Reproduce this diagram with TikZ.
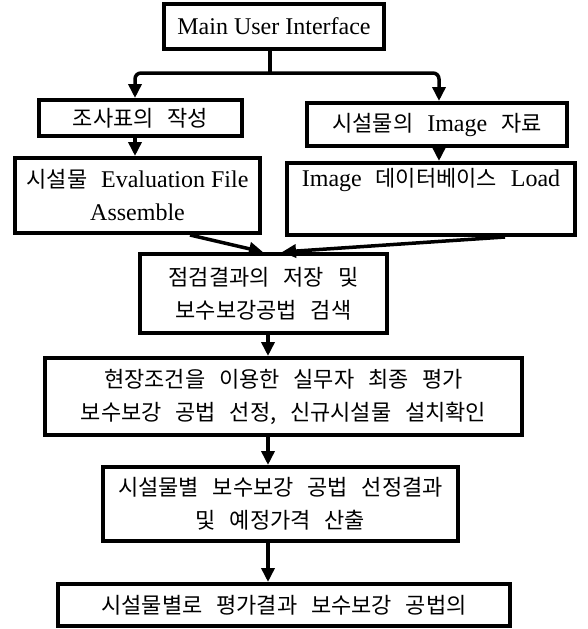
\documentclass[tikz,border=0pt]{standalone}
\usepackage{fontspec}
\setmainfont{Liberation Serif}
\newfontfamily\krfont{Noto Sans CJK KR}[WordSpace=2.8]
\newcommand{\ko}[1]{{\krfont\fontsize{22}{33}\selectfont #1}}
\usetikzlibrary{positioning,calc,arrows.meta}

\begin{document}
\begin{tikzpicture}[x=1pt, y=-1pt,
    box/.style={draw=black, line width=4pt, fill=white, align=center, inner sep=0pt,
                font=\fontsize{24}{33}\selectfont},
    conn/.style={line width=3.5pt},
    arr/.style={conn, -{Triangle[length=14pt,width=13pt]}}]
    \useasboundingbox (0,0) rectangle (587,629);

    % Columns the connectors run along
    \coordinate (spine) at (268,0);
    \coordinate (colL) at (135,0);
    \coordinate (colR) at (439,0);
    \coordinate (fork) at (270,73);
    \coordinate (mergeL) at (190,0);
    \coordinate (mergeR) at (505,0);
    \coordinate (tipL) at (263,0);
    \coordinate (tipR) at (282,0);

    % Boxes
    \node[box, minimum width=220pt, minimum height=45pt] (ui) at (274,26.5) {Main User Interface};
    \node[box, minimum width=203pt, minimum height=36pt] (survey) at (140.5,118) {\ko{조사표의 작성}};
    \node[box, minimum width=260pt, minimum height=43pt] (imgdata) at (437,124.5) {\ko{시설물의 }Image\ko{ 자료}};
    \node[box, minimum width=245pt, minimum height=75pt] (evalfile) at (137.5,195.5) {\ko{시설물 }Evaluation File\\Assemble};
    \node[box, minimum width=288pt, minimum height=72pt] (imgdb) at (431,199) {Image\ko{ 데이터베이스 }Load\\\strut};
    \node[box, minimum width=247pt, minimum height=79pt] (store) at (263.5,293.5) {\ko{점검결과의 저장 및}\\\ko{보수보강공법 검색}};
    \node[box, minimum width=477pt, minimum height=77pt] (field) at (283.5,396.5) {\ko{현장조건을 이용한 실무자 최종 평가}\\\ko{보수보강 공법 선정, 신규시설물 설치확인}};
    \node[box, minimum width=355pt, minimum height=74pt] (select) at (280.5,504) {\ko{시설물별 보수보강 공법 선정결과}\\\ko{및 예정가격 산출}};
    \node[box, minimum width=452pt, minimum height=42pt] (result) at (284,605) {\ko{시설물별로 평가결과 보수보강 공법의}};

    % Split below the main interface
    \draw[conn] (ui.south -| fork) -- (fork);
    \draw[arr, rounded corners=6pt] (fork) -| (survey.north -| colL);
    \draw[arr, rounded corners=6pt] (fork) -| (imgdata.north -| colR);

    % Two columns
    \draw[arr] (survey.south -| colL) -- (evalfile.north -| colL);
    \draw[arr] (imgdata.south -| colR) -- (imgdb.north -| colR);

    % Merge into the store box
    \draw[arr] (evalfile.south -| mergeL) -- (store.north -| tipL);
    \draw[arr] (imgdb.south -| mergeR) -- (store.north -| tipR);

    % Main spine
    \draw[arr] (store.south -| spine) -- (field.north -| spine);
    \draw[arr] (field.south -| spine) -- (select.north -| spine);
    \draw[arr] (select.south -| spine) -- (result.north -| spine);
\end{tikzpicture}
\end{document}
